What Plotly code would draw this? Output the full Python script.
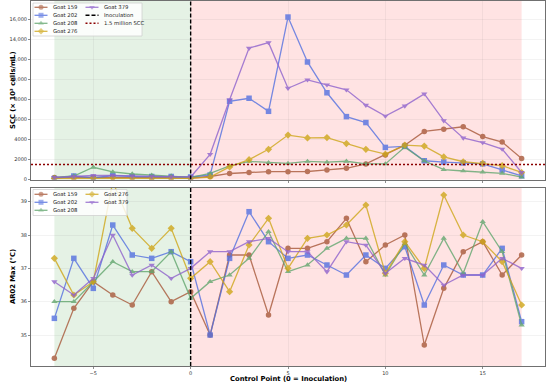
import plotly.graph_objects as go

# ---------------- data ----------------
CONTROL_POINTS = [-7, -6, -5, -4, -3, -2, -1, 0, 1, 2, 3, 4, 5, 6, 7, 8, 9, 10, 11, 12, 13, 14, 15, 16, 17]

GOATS = ["Goat 159", "Goat 202", "Goat 208", "Goat 276", "Goat 379"]

# SCC (x 10^3 cells/mL)
SCC_159 = [200, 180, 200, 200, 200, 160, 150, 150, 300, 600, 700, 780, 780, 800, 950, 1120, 1550, 2450, 3420, 4790, 5020, 5260, 4280, 3730, 2100]
SCC_202 = [100, 350, 150, 400, 300, 300, 300, 250, 450, 7800, 8100, 6800, 16200, 11720, 8650, 6270, 5680, 3200, 3300, 1870, 1740, 1650, 1560, 950, 370]
SCC_208 = [200, 350, 1220, 750, 550, 420, 350, 220, 600, 1350, 1800, 1680, 1600, 1800, 1730, 1820, 1550, 1550, 3230, 1850, 980, 850, 740, 620, 230]
SCC_276 = [100, 100, 150, 150, 100, 100, 100, 120, 230, 1250, 1980, 3010, 4430, 4150, 4180, 3580, 3010, 2530, 3430, 3330, 2250, 1770, 1610, 1380, 700]
SCC_379 = [200, 300, 400, 420, 350, 300, 280, 250, 2510, 7950, 13100, 13650, 9100, 9940, 9440, 8940, 7410, 6330, 7340, 8540, 5870, 4150, 3680, 3030, 700]

# AR02 Max (deg C)
AR02_159 = [34.3, 35.8, 36.6, 36.2, 35.9, 36.9, 36.0, 36.3, 35.0, 37.4, 37.4, 35.6, 37.6, 37.6, 37.8, 38.5, 37.2, 37.7, 38.0, 34.7, 36.4, 37.5, 37.8, 36.8, 37.4]
AR02_202 = [35.5, 37.3, 36.4, 38.3, 37.4, 37.3, 37.5, 37.2, 35.0, 37.3, 38.7, 37.8, 37.3, 37.4, 37.1, 36.8, 37.4, 37.0, 37.65, 35.9, 37.1, 36.8, 36.8, 37.6, 35.4]
AR02_208 = [36.0, 36.0, 36.6, 37.2, 36.9, 36.9, 37.5, 36.1, 36.6, 36.8, 37.3, 38.1, 36.9, 37.1, 37.6, 37.9, 37.9, 36.8, 37.75, 36.8, 37.9, 36.85, 38.4, 37.5, 35.3]
AR02_276 = [37.3, 36.2, 36.6, 39.6, 38.2, 37.6, 38.2, 36.7, 37.2, 36.3, 37.7, 38.5, 37.0, 37.9, 38.0, 38.3, 38.9, 36.85, 37.8, 37.0, 39.2, 38.0, 37.8, 37.2, 35.9]
AR02_379 = [36.6, 36.2, 36.7, 38.0, 36.8, 37.1, 36.7, 37.0, 37.5, 37.5, 37.8, 37.9, 37.5, 37.5, 36.9, 37.8, 37.7, 36.85, 37.3, 37.1, 36.5, 36.8, 36.8, 37.3, 37.0]

SCC_SERIES = [SCC_159, SCC_202, SCC_208, SCC_276, SCC_379]
AR02_SERIES = [AR02_159, AR02_202, AR02_208, AR02_276, AR02_379]

INOCULATION_CP = 0
SCC_THRESHOLD = 1500

X_TICKS = [-5, 0, 5, 10, 15]
X_TICK_LABELS = ["\u22125", "0", "5", "10", "15"]
SCC_TICKS = [0, 2000, 4000, 6000, 8000, 10000, 12000, 14000, 16000]
SCC_TICK_LABELS = ["0", "2000", "4000", "6000", "8000", "10,000", "12,000", "14,000", "16,000"]
AR02_TICKS = [35, 36, 37, 38, 39]
AR02_TICK_LABELS = ["35", "36", "37", "38", "39"]

# ---------------- style ----------------
COLORS = ["#a8593a", "#5470e0", "#62a66e", "#cfa619", "#8f62cc"]
SYMBOLS = ["circle", "square", "triangle-up", "diamond", "triangle-down"]
OPACITY = 0.8
FONT = "DejaVu Sans"
W, H = 550, 384
ML, MR, MT, MB = 31, 5, 1, 18
X_RANGE = [-8.2, 18.2]
SCC_RANGE = [0, 17800]
AR02_RANGE = [34.07, 39.42]


def px_x(px):
    return (px - ML) / (W - ML - MR)


def px_y(py):
    return (H - MB - py) / (H - MT - MB)


fig = go.Figure()

# series
for i, name in enumerate(GOATS):
    fig.add_trace(go.Scatter(
        x=CONTROL_POINTS, y=SCC_SERIES[i], name=name, mode="lines+markers",
        line=dict(color=COLORS[i], width=1.3),
        marker=dict(symbol=SYMBOLS[i], size=5.5, color=COLORS[i], line=dict(width=0)),
        opacity=OPACITY, xaxis="x", yaxis="y", showlegend=False))
for i, name in enumerate(GOATS):
    fig.add_trace(go.Scatter(
        x=CONTROL_POINTS, y=AR02_SERIES[i], name=name, mode="lines+markers",
        line=dict(color=COLORS[i], width=1.3),
        marker=dict(symbol=SYMBOLS[i], size=5.5, color=COLORS[i], line=dict(width=0)),
        opacity=OPACITY, xaxis="x2", yaxis="y2", showlegend=False))

# reference lines
fig.add_trace(go.Scatter(x=X_RANGE, y=[SCC_THRESHOLD, SCC_THRESHOLD], mode="lines",
                         line=dict(color="#8b0000", width=1.4, dash="2px,2px"),
                         name="1.5 million SCC", xaxis="x", yaxis="y", showlegend=False, hoverinfo="skip"))
fig.add_trace(go.Scatter(x=[INOCULATION_CP, INOCULATION_CP], y=SCC_RANGE, mode="lines",
                         line=dict(color="black", width=1.4, dash="4px,2px"),
                         name="Inoculation", xaxis="x", yaxis="y", showlegend=False, hoverinfo="skip"))
fig.add_trace(go.Scatter(x=[INOCULATION_CP, INOCULATION_CP], y=AR02_RANGE, mode="lines",
                         line=dict(color="black", width=1.4, dash="4px,2px"),
                         name="Inoculation", xaxis="x2", yaxis="y2", showlegend=False, hoverinfo="skip"))

# shaded periods
shapes = []
for xr, yr in (("x", "y domain"), ("x2", "y2 domain")):
    shapes.append(dict(type="rect", xref=xr, yref=yr, x0=CONTROL_POINTS[0], x1=INOCULATION_CP, y0=0, y1=1,
                       fillcolor="rgba(0,128,0,0.10)", line=dict(width=0), layer="below"))
    shapes.append(dict(type="rect", xref=xr, yref=yr, x0=INOCULATION_CP, x1=CONTROL_POINTS[-1], y0=0, y1=1,
                       fillcolor="rgba(255,0,0,0.11)", line=dict(width=0), layer="below"))

# ---------------- manual legends (pixel overlay axis) ----------------
annotations = []


def legend_box(x0, y0, x1, y1):
    fig.add_trace(go.Scatter(x=[x0, x1, x1, x0, x0], y=[y0, y0, y1, y1, y0], mode="lines",
                             fill="toself", fillcolor="rgba(255,255,255,0.82)",
                             line=dict(color="#d0d0d0", width=0.8),
                             xaxis="x3", yaxis="y3", showlegend=False, hoverinfo="skip"))


def legend_entry(gx, gy, text, color, symbol=None, dash=None):
    if symbol is not None:
        fig.add_trace(go.Scatter(x=[gx, gx + 6.5, gx + 13], y=[gy, gy, gy], mode="lines+markers",
                                 line=dict(color=color, width=1.3),
                                 marker=dict(symbol=symbol, size=[0, 5, 0], color=color, line=dict(width=0)),
                                 opacity=OPACITY, xaxis="x3", yaxis="y3", showlegend=False, hoverinfo="skip"))
    else:
        fig.add_trace(go.Scatter(x=[gx, gx + 13], y=[gy, gy], mode="lines",
                                 line=dict(color=color, width=1.4, dash=dash),
                                 xaxis="x3", yaxis="y3", showlegend=False, hoverinfo="skip"))
    annotations.append(dict(text=text, x=px_x(gx + 16), y=px_y(gy), xref="paper", yref="paper",
                            xanchor="left", yanchor="middle", showarrow=False,
                            font=dict(family=FONT, size=5.3, color="#262626")))


# top legend
legend_box(33, 3, 142, 36)
ROWS_TOP = [7.3, 15.3, 23.3, 31.3]
for i in range(4):
    legend_entry(34.5, ROWS_TOP[i], GOATS[i], COLORS[i], SYMBOLS[i])
legend_entry(85.5, ROWS_TOP[0], GOATS[4], COLORS[4], SYMBOLS[4])
legend_entry(85.5, ROWS_TOP[1], "Inoculation", "black", dash="4px,2px")
legend_entry(85.5, ROWS_TOP[2], "1.5 million SCC", "#8b0000", dash="2px,2px")

# bottom legend
legend_box(33, 189.5, 127, 215.5)
ROWS_BOT = [194.3, 202.3, 210.3]
for i in range(3):
    legend_entry(34.5, ROWS_BOT[i], GOATS[i], COLORS[i], SYMBOLS[i])
for j, i in enumerate([3, 4]):
    legend_entry(85.5, ROWS_BOT[j], GOATS[i], COLORS[i], SYMBOLS[i])

# axis titles
TITLE_FONT = dict(family=FONT, size=6.8, color="black")
annotations.append(dict(text="<b>SCC (× 10³ cells/mL)</b>", x=px_x(13), y=px_y(90), xref="paper", yref="paper",
                        textangle=-90, showarrow=False, xanchor="center", yanchor="middle", font=TITLE_FONT))
annotations.append(dict(text="<b>AR02 Max (°C)</b>", x=px_x(13), y=px_y(277), xref="paper", yref="paper",
                        textangle=-90, showarrow=False, xanchor="center", yanchor="middle", font=TITLE_FONT))
annotations.append(dict(text="<b>Control Point (0 = Inoculation)</b>", x=px_x(288), y=px_y(379),
                        xref="paper", yref="paper", showarrow=False, xanchor="center", yanchor="middle",
                        font=TITLE_FONT))

TICK_FONT = dict(family=FONT, size=5, color="#333333")
GRID = "rgba(128,128,128,0.16)"
axis_common = dict(showline=True, mirror=True, linecolor="#707070", linewidth=1, showgrid=True,
                   gridcolor=GRID, gridwidth=0.6, zeroline=False, ticks="outside", ticklen=2,
                   tickcolor="#707070", tickwidth=0.8, tickfont=TICK_FONT, automargin=False)

fig.update_layout(
    width=W, height=H, margin=dict(l=ML, r=MR, t=MT, b=MB),
    paper_bgcolor="#ffffff", plot_bgcolor="rgba(0,0,0,0)", showlegend=False,
    font=dict(family=FONT),
    xaxis=dict(domain=[0, 1], anchor="y", range=X_RANGE, tickvals=X_TICKS, showticklabels=False, **axis_common),
    yaxis=dict(domain=[px_y(179.5), 1], anchor="x", range=SCC_RANGE, tickvals=SCC_TICKS,
               ticktext=SCC_TICK_LABELS, **axis_common),
    xaxis2=dict(domain=[0, 1], anchor="y2", range=X_RANGE, tickvals=X_TICKS,
                ticktext=X_TICK_LABELS, matches="x", **axis_common),
    yaxis2=dict(domain=[0, px_y(187.7)], anchor="x2", range=AR02_RANGE, tickvals=AR02_TICKS,
                ticktext=AR02_TICK_LABELS, **axis_common),
    xaxis3=dict(domain=[0, 1], anchor="y3", range=[ML, W - MR], visible=False, fixedrange=True),
    yaxis3=dict(domain=[0, 1], anchor="x3", range=[H - MB, MT], visible=False, fixedrange=True),
    shapes=shapes, annotations=annotations,
)

fig.write_html("out.html", config={"displayModeBar": False, "staticPlot": True},
               post_script="document.body.style.margin='0';")
